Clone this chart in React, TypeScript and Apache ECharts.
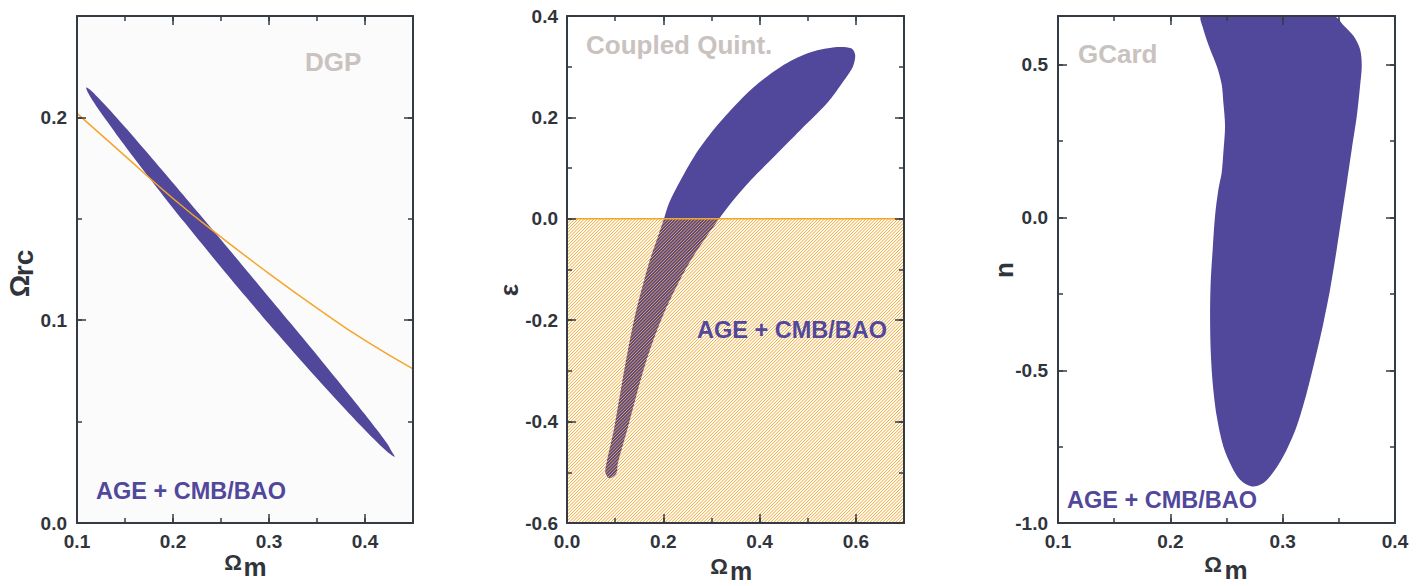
import React, { useEffect, useRef } from "react";
import * as echarts from "echarts";

const FONT = '"Liberation Sans", Arial, Helvetica, sans-serif';
const FRAME = "#353b45";
const TICK_TEXT = "#30343b";
const PURPLE = "#51479b";
const ORANGE = "#f5a52a";
const GRAY_LABEL = "#c9c2bf";

// ---------- Panel 1 : DGP ----------
const DGP_X_TICKS = [0.1, 0.2, 0.3, 0.4];
const DGP_Y_TICKS = [0.0, 0.1, 0.2];
const DGP_FLAT_OM = [0.1, 0.15, 0.2, 0.25, 0.3, 0.35, 0.4, 0.45];
const DGP_FLAT_ORC = [0.202, 0.181, 0.16, 0.141, 0.123, 0.106, 0.09, 0.076];
const DGP_CONTOUR = [
  [0.1097, 0.2147], [0.1142, 0.2134], [0.1214, 0.21], [0.1385, 0.2013], [0.1617, 0.1889], [0.1943, 0.1709],
  [0.2266, 0.1528], [0.2589, 0.1346], [0.291, 0.1164], [0.323, 0.0982], [0.3549, 0.0799],
  [0.3865, 0.0615], [0.4083, 0.0485], [0.4234, 0.039], [0.428, 0.0351], [0.4309, 0.0327],
  [0.4262, 0.034], [0.4186, 0.0371], [0.4007, 0.0455], [0.3765, 0.0576], [0.3427, 0.0751], [0.3096, 0.0929],
  [0.277, 0.1109], [0.2449, 0.1291], [0.2132, 0.1475], [0.1821, 0.1661], [0.1516, 0.1849],
  [0.1309, 0.1983], [0.1166, 0.2081], [0.1114, 0.2123],
];

// ---------- Panel 2 : Coupled Quintessence ----------
const CQ_X_TICKS = [0.0, 0.2, 0.4, 0.6];
const CQ_Y_TICKS = [-0.6, -0.4, -0.2, 0.0, 0.2, 0.4];
const CQ_EXCLUDED_OM = [0.0, 0.7];
const CQ_EXCLUDED_EPS = [-0.6, 0.0];
const CQ_CONTOUR = [
  [0.5986, 0.3231], [0.5903, 0.3362], [0.5556, 0.3382], [0.5, 0.3264], [0.4444, 0.3001],
  [0.3889, 0.2606], [0.3403, 0.2146], [0.2986, 0.1686], [0.2639, 0.1225], [0.2361, 0.0765],
  [0.2118, 0.0305], [0.2014, 0.0], [0.184, -0.0484], [0.1701, -0.0878], [0.1424, -0.1865],
  [0.1215, -0.2851], [0.0972, -0.4166], [0.0819, -0.4823], [0.0799, -0.502], [0.0889, -0.5119],
  [0.1028, -0.502], [0.1056, -0.4823], [0.125, -0.4166], [0.1632, -0.2851], [0.2014, -0.1865],
  [0.2535, -0.0878], [0.316, 0.0], [0.3403, 0.0305], [0.382, 0.0765], [0.43, 0.1225],
  [0.485, 0.1751], [0.54, 0.2277], [0.576, 0.2738], [0.5938, 0.3001],
];

// ---------- Panel 3 : GCard ----------
const GC_X_TICKS = [0.1, 0.2, 0.3, 0.4];
const GC_Y_TICKS = [-1.0, -0.5, 0.0, 0.5];
const GC_CONTOUR = [
  [0.2279, 0.66], [0.2294, 0.617], [0.2354, 0.5514], [0.2413, 0.4967], [0.2457, 0.4366],
  [0.2472, 0.3765], [0.2487, 0.3], [0.2472, 0.2126], [0.2457, 0.147], [0.2428, 0.0924],
  [0.2398, 0.0049], [0.2377, -0.1044], [0.2359, -0.2137], [0.2354, -0.323], [0.2359, -0.4322],
  [0.2377, -0.5415], [0.2413, -0.6508], [0.2472, -0.7492], [0.2546, -0.8148], [0.2621, -0.8585],
  [0.2725, -0.8803], [0.2828, -0.8694], [0.2932, -0.8257], [0.3036, -0.7601], [0.3125, -0.6836],
  [0.3214, -0.5743], [0.3288, -0.465], [0.3363, -0.3448], [0.3422, -0.2355], [0.3481, -0.1044],
  [0.3526, 0.0049], [0.3571, 0.1142], [0.3615, 0.2235], [0.366, 0.3328], [0.3689, 0.4311],
  [0.3704, 0.4967], [0.3689, 0.5514], [0.363, 0.595], [0.3541, 0.63], [0.3452, 0.66],
];

// ---------- layout ----------
const PANELS = [
  { left: 77, top: 16, width: 336, height: 507, x: [0.1, 0.45], y: [0, 0.25], xMinor: 0.05, yMinor: 0.05, xTicks: DGP_X_TICKS, yTicks: DGP_Y_TICKS, bg: "#fbfbfb", yMargin: 10 },
  { left: 567, top: 16, width: 337, height: 507, x: [0, 0.7], y: [-0.6, 0.4], xMinor: 0.1, yMinor: 0.1, xTicks: CQ_X_TICKS, yTicks: CQ_Y_TICKS, bg: "#ffffff", yMargin: 9 },
  { left: 1058, top: 16, width: 337, height: 507, x: [0.1, 0.4], y: [-1.0, 0.66], xMinor: 0.05, yMinor: 0.25, xTicks: GC_X_TICKS, yTicks: GC_Y_TICKS, bg: "#ffffff", yMargin: 10 },
];

function makeAxis(dim: "x" | "y", g: number, p: any, major: boolean, pos: string) {
  const [min, max] = dim === "x" ? p.x : p.y;
  const ticks: number[] = dim === "x" ? p.xTicks : p.yTicks;
  const minor = dim === "x" ? p.xMinor : p.yMinor;
  const showLabel = major && (pos === "bottom" || pos === "left");
  const maxIsTick = ticks.some((t) => Math.abs(t - max) < 1e-9);
  return {
    type: "value",
    gridIndex: g,
    position: pos,
    min,
    max,
    z: 10,
    interval: major ? Math.round((ticks[1] - ticks[0]) * 1000) / 1000 : minor,
    axisLine: { show: major, onZero: false, lineStyle: { color: FRAME, width: 2 } },
    splitLine: { show: false },
    minorTick: { show: false },
    axisTick: {
      show: true,
      inside: true,
      length: major ? 9 : 5,
      lineStyle: { color: FRAME, width: 1.5 },
    },
    axisLabel: {
      show: showLabel,
      showMaxLabel: maxIsTick ? true : false,
      showMinLabel: true,
      formatter: (v: number) => Number(v).toFixed(1),
      margin: dim === "x" ? 9 : p.yMargin,
      color: TICK_TEXT,
      fontSize: 19,
      fontWeight: "bold",
      fontFamily: FONT,
    },
  };
}

function polygonSeries(g: number, pts: number[][], z: number, smooth: number) {
  return {
    type: "custom",
    xAxisIndex: 4 * g,
    yAxisIndex: 4 * g,
    clip: true,
    silent: true,
    z,
    data: [[pts[0][0], pts[0][1]]],
    renderItem: (_params: any, api: any) => ({
      type: "polygon",
      shape: { points: pts.map((pt) => api.coord(pt)), smooth },
      style: { fill: PURPLE },
    }),
  };
}

function textEl(text: string, x: number, y: number, size: number, color: string, rotate = false, align = "left") {
  return {
    type: "text",
    x,
    y,
    rotation: rotate ? Math.PI / 2 : 0,
    z: 100,
    silent: true,
    style: {
      text,
      fill: color,
      fontSize: size,
      fontWeight: "bold",
      fontFamily: FONT,
      lineHeight: Math.round(size * 0.8),
      align,
      verticalAlign: "middle",
      textAlign: align,
      textVerticalAlign: "middle",
    },
  };
}

export default function App() {
  const ref = useRef<HTMLDivElement>(null);

  useEffect(() => {
    document.body.style.margin = "0";
    if (!ref.current) return;
    const chart = echarts.init(ref.current, undefined, { renderer: "svg" });

    const xAxis: any[] = [];
    const yAxis: any[] = [];
    PANELS.forEach((p, g) => {
      xAxis.push(makeAxis("x", g, p, true, "bottom"));
      xAxis.push(makeAxis("x", g, p, false, "bottom"));
      xAxis.push(makeAxis("x", g, p, true, "top"));
      xAxis.push(makeAxis("x", g, p, false, "top"));
      yAxis.push(makeAxis("y", g, p, true, "left"));
      yAxis.push(makeAxis("y", g, p, false, "left"));
      yAxis.push(makeAxis("y", g, p, true, "right"));
      yAxis.push(makeAxis("y", g, p, false, "right"));
    });

    const hatchSeries = {
      type: "custom",
      xAxisIndex: 4,
      yAxisIndex: 4,
      clip: true,
      silent: true,
      z: 5,
      data: [[CQ_EXCLUDED_OM[0], CQ_EXCLUDED_EPS[1]]],
      renderItem: (_params: any, api: any) => {
        const tl = api.coord([CQ_EXCLUDED_OM[0], CQ_EXCLUDED_EPS[1]]);
        const br = api.coord([CQ_EXCLUDED_OM[1], CQ_EXCLUDED_EPS[0]]);
        const x0 = tl[0], y0 = tl[1], x1 = br[0], y1 = br[1];
        const children: any[] = [];
        const step = 3.2;
        for (let k = x0 + y0 + step / 2; k < x1 + y1; k += step) {
          const xa = Math.max(x0, k - y1);
          const xb = Math.min(x1, k - y0);
          if (xb <= xa) continue;
          children.push({
            type: "line",
            shape: { x1: xa, y1: k - xa, x2: xb, y2: k - xb },
            style: { stroke: ORANGE, lineWidth: 1 },
          });
        }
        children.push({
          type: "line",
          shape: { x1: x0, y1: y0, x2: x1, y2: y0 },
          style: { stroke: ORANGE, lineWidth: 1.5 },
        });
        return { type: "group", children };
      },
    };

    const option: any = {
      animation: false,
      backgroundColor: "#ffffff",
      grid: PANELS.map((p) => ({
        left: p.left,
        top: p.top,
        width: p.width,
        height: p.height,
        show: true,
        backgroundColor: p.bg,
        borderWidth: 0,
        containLabel: false,
        outerBoundsMode: "none",
      })),
      xAxis,
      yAxis,
      series: [
        polygonSeries(0, DGP_CONTOUR, 2, 0.4),
        {
          type: "line",
          xAxisIndex: 0,
          yAxisIndex: 0,
          data: DGP_FLAT_OM.map((x, i) => [x, DGP_FLAT_ORC[i]]),
          smooth: true,
          showSymbol: false,
          symbol: "none",
          silent: true,
          z: 3,
          lineStyle: { color: ORANGE, width: 1.5 },
        },
        polygonSeries(1, CQ_CONTOUR, 2, 0.3),
        hatchSeries,
        polygonSeries(2, GC_CONTOUR, 2, 0.3),
      ],
      graphic: [
        textEl("DGP", 305, 62, 26, GRAY_LABEL),
        textEl("Coupled Quint.", 586, 45, 26, GRAY_LABEL),
        textEl("GCard", 1078, 54, 26, GRAY_LABEL),
        textEl("AGE + CMB/BAO", 96, 491, 23.5, PURPLE),
        textEl("AGE + CMB/BAO", 697, 330, 23.5, PURPLE),
        textEl("AGE + CMB/BAO", 1067, 500, 23.5, PURPLE),
        // x titles
        textEl("Ω", 233, 562, 22, TICK_TEXT, false, "center"),
        textEl("m", 255, 567, 26, TICK_TEXT, false, "center"),
        textEl("Ω", 719, 566, 22, TICK_TEXT, false, "center"),
        textEl("m", 741, 571, 25, TICK_TEXT, false, "center"),
        textEl("Ω", 1213, 564, 22, TICK_TEXT, false, "center"),
        textEl("m", 1236, 570, 26, TICK_TEXT, false, "center"),
        // y titles
        textEl("Ω", 19, 286, 28, TICK_TEXT, true, "center"),
        textEl("rc", 23, 263, 28, TICK_TEXT, true, "center"),
        textEl("ε", 509, 290, 26, TICK_TEXT, true, "center"),
        textEl("n", 1004, 270, 26, TICK_TEXT, true, "center"),
      ],
    };

    chart.setOption(option);
    return () => chart.dispose();
  }, []);

  return <div ref={ref} style={{ width: 1423, height: 586 }} />;
}
